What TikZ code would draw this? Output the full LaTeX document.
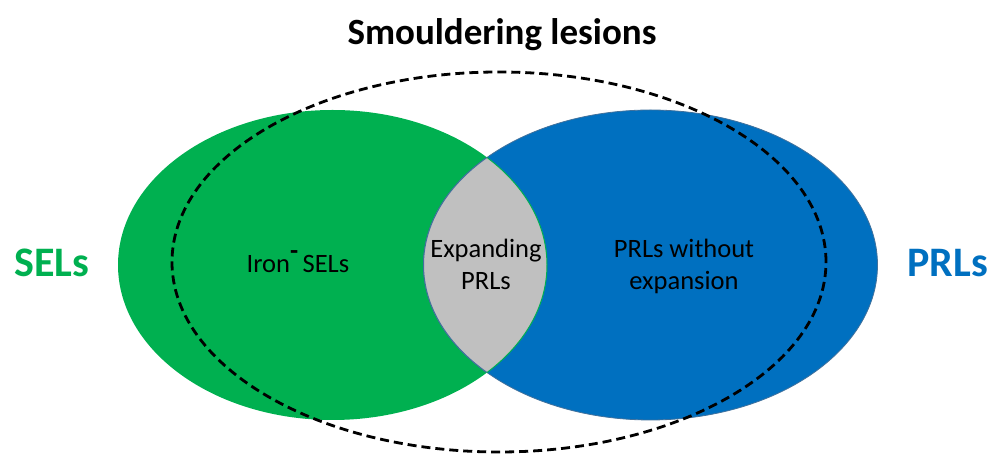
\documentclass[tikz,border=0pt]{standalone}
\usepackage{fontspec}
\setmainfont{Carlito}
\definecolor{selgreen}{HTML}{00B050}
\definecolor{prlblue}{HTML}{0070C0}
\definecolor{prledge}{HTML}{41719C}
\definecolor{lensgray}{HTML}{C0C0C0}
\tikzset{
  settext/.style={font=\fontsize{26.5}{32}\selectfont, text=black, inner sep=0pt, align=center},
  sidelabel/.style={font=\fontsize{42}{46}\selectfont\bfseries, inner sep=0pt},
  smoulder/.style={draw=black, line width=2.8pt, dash pattern=on 9pt off 5pt}
}
\begin{document}
\begin{tikzpicture}[x=1pt,y=1pt]
  \useasboundingbox (0,0) rectangle (989,454);
  % the two sets
  \coordinate (gc) at (332.5,189);
  \coordinate (bc) at (650.5,189);
  \fill[selgreen] (gc) ellipse [x radius=214.5, y radius=155];
  \fill[prlblue] (bc) ellipse [x radius=227, y radius=155];
  \draw[prledge, line width=0.8pt] (bc) ellipse [x radius=227, y radius=155];
  % intersection lens
  \begin{scope}
    \clip (gc) ellipse [x radius=214.5, y radius=155];
    \fill[lensgray] (bc) ellipse [x radius=227, y radius=155];
    \draw[prledge, line width=1pt] (bc) ellipse [x radius=227, y radius=155];
  \end{scope}
  \begin{scope}
    \clip (bc) ellipse [x radius=227, y radius=155];
    \draw[selgreen, line width=1pt] (gc) ellipse [x radius=214.5, y radius=155];
  \end{scope}
  % smouldering lesions outline
  \draw[smoulder] (499,192) ellipse [x radius=327, y radius=190];
  % labels
  \node[font=\fontsize{37}{40}\selectfont\bfseries, inner sep=0pt, anchor=base] (title) at (502,409) {Smouldering lesions};
  \node[sidelabel, text=selgreen, anchor=base west] (sels) at (14,177) {SELs};
  \node[sidelabel, text=prlblue, anchor=base east] (prls) at (988,177) {PRLs};
  \node[settext, anchor=base] (iron) at (298,181) {Iron\raisebox{0.5em}{\textbf{-}}\,SELs};
  \node[settext, anchor=base] (expanding) at (486,164) {Expanding\\PRLs};
  \node[settext, anchor=base] (without) at (684,164) {PRLs without\\expansion};
\end{tikzpicture}
\end{document}
